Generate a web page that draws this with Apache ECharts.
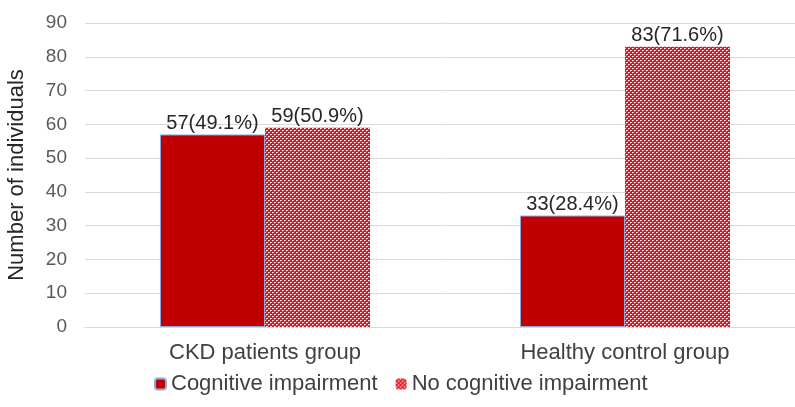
<!DOCTYPE html>
<html>
<head>
<meta charset="utf-8">
<script src="https://cdn.jsdelivr.net/npm/echarts@6/dist/echarts.min.js"></script>
<style>
  html, body { margin: 0; padding: 0; background: #fff; }
  #chart { width: 795px; height: 407px; }
</style>
</head>
<body>
<div id="chart"></div>
<script>
var categories = ['CKD patients group', 'Healthy control group'];
var seriesNames = ['Cognitive impairment', 'No cognitive impairment'];
var impaired = [57, 33];
var notImpaired = [59, 83];
var impairedLabels = ['57(49.1%)', '33(28.4%)'];
var notImpairedLabels = ['59(50.9%)', '83(71.6%)'];

// dotted fill for the second series
function makePattern() {
    var c = document.createElement('canvas');
    c.width = 4;
    c.height = 4;
    var ctx = c.getContext('2d');
    ctx.fillStyle = '#e6101c';
    ctx.fillRect(0, 0, 4, 4);
    ctx.fillStyle = '#ffffff';
    ctx.fillRect(0, 0, 1, 1);
    ctx.fillRect(2, 2, 1, 1);
    ctx.fillStyle = 'rgba(255,255,255,0.7)';
    ctx.fillRect(1, 0, 1, 1);
    ctx.fillRect(3, 2, 1, 1);
    ctx.fillStyle = 'rgba(255,255,255,0.3)';
    ctx.fillRect(0, 1, 1, 1);
    ctx.fillRect(2, 3, 1, 1);
    return c;
}
var pattern = { image: makePattern(), repeat: 'repeat' };

var chart = echarts.init(document.getElementById('chart'));
var font = 'Liberation Sans, Arial, sans-serif';

var option = {
    animation: false,
    textStyle: { fontFamily: font },
    grid: {
        left: 85,
        top: 23,
        width: 720,
        height: 304,
        containLabel: false,
        outerBoundsMode: 'none'
    },
    legend: {
        data: seriesNames,
        bottom: 7,
        left: 149,
        itemWidth: 11,
        itemHeight: 11,
        itemGap: 18,
        textStyle: { fontSize: 22, color: '#404040', fontFamily: font }
    },
    xAxis: {
        type: 'category',
        data: categories,
        axisLine: { lineStyle: { color: '#d9d9d9', width: 1 } },
        axisTick: { show: false },
        axisLabel: { fontSize: 22, color: '#404040', margin: 15 }
    },
    yAxis: {
        type: 'value',
        min: 0,
        max: 90,
        interval: 10,
        name: 'Number of individuals',
        nameLocation: 'middle',
        nameGap: 57,
        nameTextStyle: { fontSize: 22, color: '#262626' },
        axisLine: { show: false },
        axisTick: { show: false },
        axisLabel: { fontSize: 19, color: '#595959', margin: 18 },
        splitLine: { lineStyle: { color: '#d9d9d9', width: 1 } }
    },
    series: [
        {
            name: seriesNames[0],
            type: 'bar',
            data: impaired,
            barWidth: 105,
            barGap: '0%',
            itemStyle: { color: '#c00000', borderColor: '#8faadc', borderWidth: 1 },
            label: {
                show: true,
                position: 'top',
                distance: 1,
                fontSize: 20,
                color: '#262626',
                formatter: function (p) { return impairedLabels[p.dataIndex]; }
            }
        },
        {
            name: seriesNames[1],
            type: 'bar',
            data: notImpaired,
            barWidth: 105,
            barGap: '0%',
            itemStyle: { color: pattern },
            label: {
                show: true,
                position: 'top',
                distance: 1,
                fontSize: 20,
                color: '#262626',
                formatter: function (p) { return notImpairedLabels[p.dataIndex]; }
            }
        }
    ]
};
chart.setOption(option);
</script>
</body>
</html>
